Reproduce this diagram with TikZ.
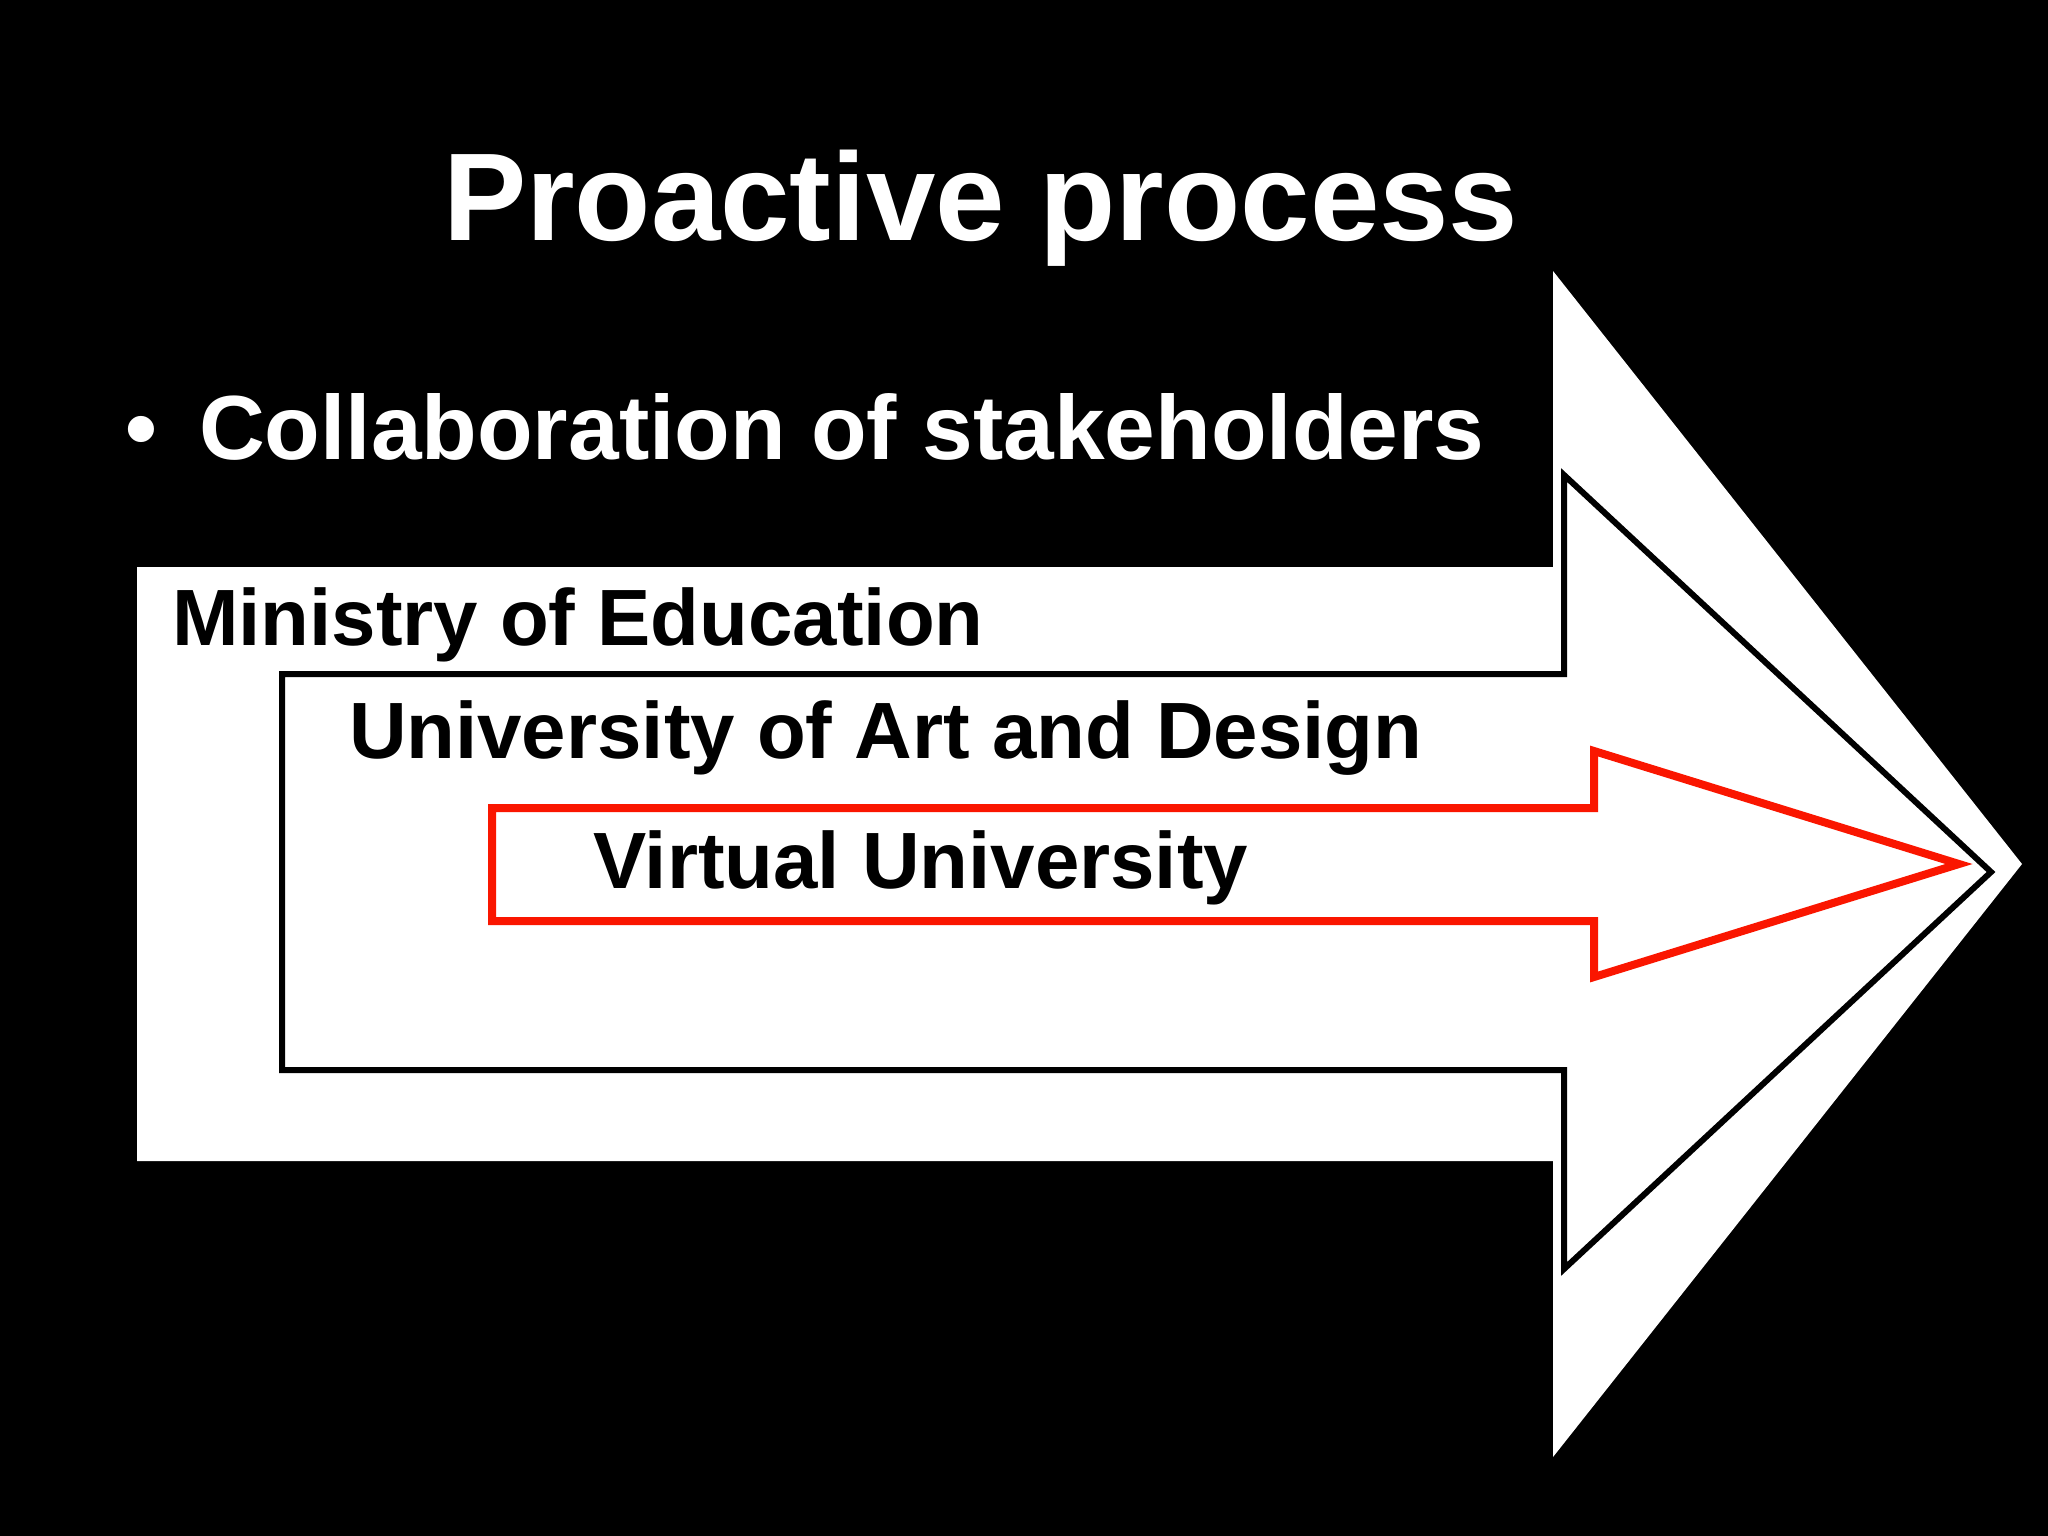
\documentclass[tikz,border=0pt]{standalone}
\usepackage{fontspec}
\setmainfont{Liberation Sans}
\definecolor{arrowred}{RGB}{250,22,0}
\begin{document}
\begin{tikzpicture}[x=0.01cm,y=-0.01cm,line join=miter,
  txt/.style={anchor=base west,inner sep=0pt,outer sep=0pt},
  lbl/.style={txt,text=black,font=\fontsize{22.7}{26}\selectfont\bfseries},
  head/.style={txt,text=white,font=\fontsize{35.5}{40}\selectfont\bfseries},
  bul/.style={txt,text=white,font=\fontsize{25.9}{30}\selectfont\bfseries},
  midarrow/.style={draw=black,fill=white,line width=0.06cm},
  redarrow/.style={draw=arrowred,fill=white,line width=0.08cm}]
\fill[black] (0,0) rectangle (2048,1536);
\useasboundingbox (0,0) rectangle (2048,1536);
% outer white arrow
\fill[white] (137,567) -- (1553,567) -- (1553,271) -- (2022,864) -- (1553,1457) -- (1553,1161) -- (137,1161) -- cycle;
% middle arrow
\draw[midarrow] (282,674) -- (1564,674) -- (1564,475) -- (1991,872) -- (1564,1269) -- (1564,1070) -- (282,1070) -- cycle;
% red arrow
\draw[redarrow] (492,808) -- (1594,808) -- (1594,751) -- (1959,864) -- (1594,977) -- (1594,921) -- (492,921) -- cycle;
% texts
\node[head] (title) at (443,240) {Proactive process};
\node[bul] (bullet) at (125,459) {•};
\node[bul] (collab) at (199,459) {Collaboration of stakeholders};
\node[lbl] (moe) at (172,645) {Ministry of Education};
\node[lbl] (uad) at (349,758) {University of Art and Design};
\node[lbl] (vu) at (593,888) {Virtual University};
\end{tikzpicture}
\end{document}
